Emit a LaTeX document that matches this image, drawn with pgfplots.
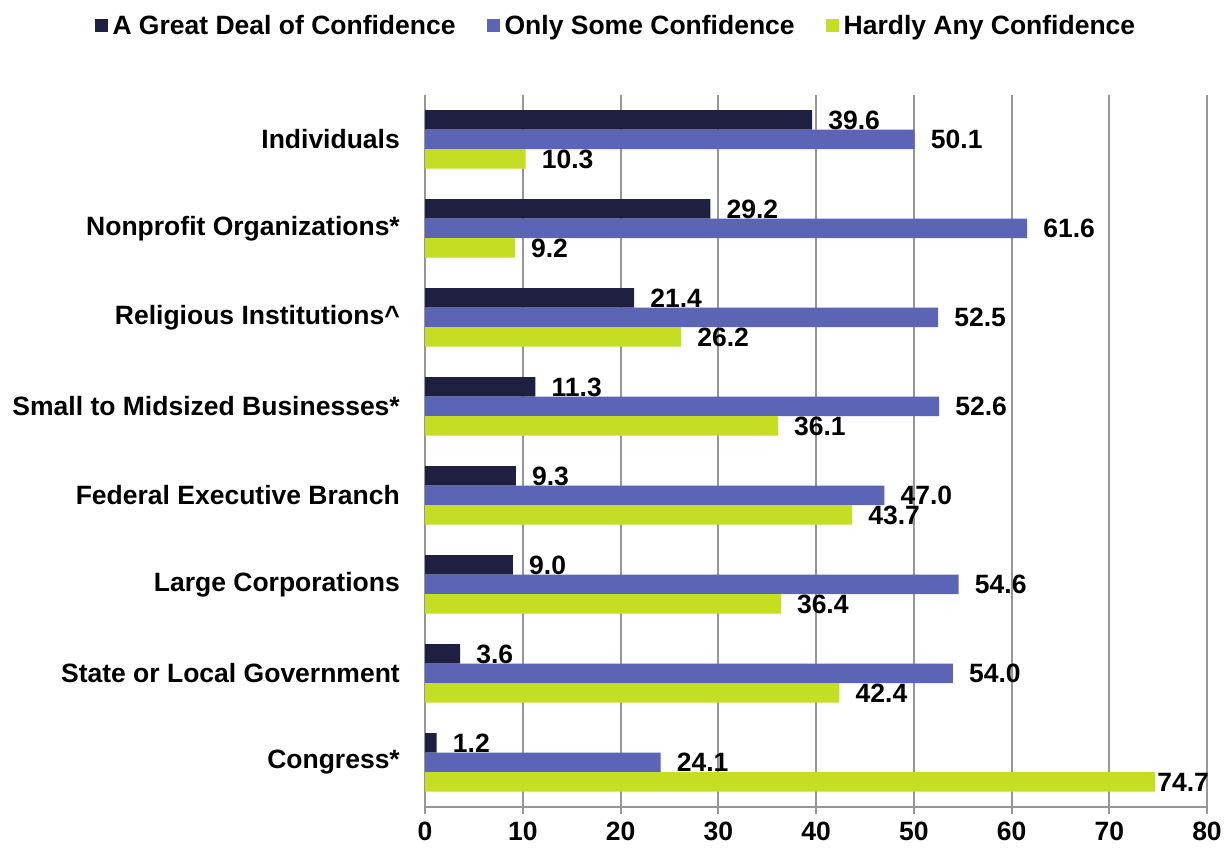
\documentclass[border=0pt]{standalone}
\usepackage{pgfplots}
\usepackage{pgfplotstable}
\pgfplotsset{compat=1.18}
\usepackage{fontspec}
\setmainfont{Liberation Sans}
\definecolor{cnavy}{HTML}{1F2041}
\definecolor{cblue}{HTML}{5B64B5}
\definecolor{clime}{HTML}{C5DD22}
\definecolor{cgrid}{HTML}{969696}
\newcommand\cf{\fontsize{26.5}{30}\selectfont\bfseries}

\pgfplotstableread{
y a b c dc
0 39.6 50.1 10.3 16
1 29.2 61.6 9.2 16
2 21.4 52.5 26.2 16
3 11.3 52.6 36.1 16
4 9.3 47.0 43.7 16
5 9.0 54.6 36.4 16
6 3.6 54.0 42.4 16
7 1.2 24.1 74.7 2
}\data

\begin{document}
\begin{tikzpicture}[font=\cf]
\begin{axis}[
  name=ax,
  scale only axis, width=782pt, height=712pt,
  xbar, bar width=19.5pt,
  xmin=0, xmax=80, ymin=-0.5, ymax=7.5, y dir=reverse,
  xtick={0,10,...,80}, ytick={0,...,7},
  yticklabels={Individuals, Nonprofit Organizations*, Religious Institutions\textasciicircum, Small to Midsized Businesses*, Federal Executive Branch, Large Corporations, State or Local Government, Congress*},
  axis x line*=bottom, axis y line*=left,
  axis line style={cgrid, line width=2pt},
  xmajorgrids, grid style={cgrid, line width=2pt},
  tick align=outside, major tick length=7pt,
  xtick style={cgrid, line width=2pt},
  ytick style={draw=none},
  tick label style={font=\cf},
  /pgf/number format/assume math mode=true,
  yticklabel style={inner xsep=0pt, xshift=-18pt},
  xticklabel style={yshift=-4pt},
  legend image code/.code={\fill[#1,draw=none] (0pt,-6.5pt) rectangle (13pt,6.5pt);},
  legend style={at={(axis description cs:0.246,1.097)}, anchor=center, draw=none, fill=none,
    legend columns=3, font=\cf,
    nodes={inner xsep=4.5pt},
    /tikz/every even column/.append style={column sep=27pt}},
  nodes near coords={\pgfmathprintnumber[fixed,fixed zerofill,precision=1,assume math mode=true]{\pgfplotspointmeta}},
  nodes near coords style={font=\cf, anchor=west, inner xsep=0pt, text=black},
  visualization depends on={\thisrow{dc} \as \dcs},
]
\addplot[fill=cnavy, draw=none, bar shift=19.5pt, nodes near coords style={xshift=16pt}] table[x=a, y=y] {\data};
\addplot[fill=cblue, draw=none, bar shift=0pt, nodes near coords style={xshift=16pt}] table[x=b, y=y] {\data};
\addplot[fill=clime, draw=none, bar shift=-19.5pt, nodes near coords style={xshift=\dcs pt}] table[x=c, y=y] {\data};
\legend{A Great Deal of Confidence, Only Some Confidence, Hardly Any Confidence}
\coordinate (bl) at (axis description cs:-0.5435,-0.0618);
\coordinate (tr) at (axis description cs:1.02813,1.1334);
\end{axis}
\pgfresetboundingbox
\path (bl) rectangle (tr);
\end{tikzpicture}
\end{document}
